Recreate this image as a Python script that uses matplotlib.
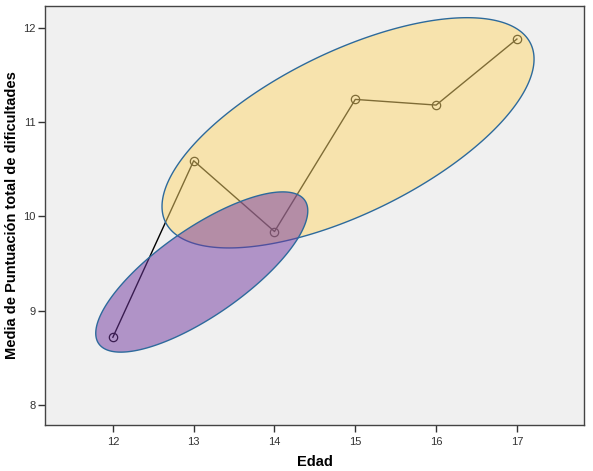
import matplotlib as mpl
import matplotlib.pyplot as plt
from matplotlib.patches import Polygon
import numpy as np

mpl.rcParams['font.family'] = ['Liberation Sans', 'DejaVu Sans']

edad = [12, 13, 14, 15, 16, 17]
media = [8.72, 10.59, 9.84, 11.24, 11.18, 11.88]

# ellipses: center x, center y, half-width x, half-height y, correlation
elipse_amarilla = [14.91, 10.886, 2.302, 1.220, 0.640]
elipse_morada = [13.10, 9.411, 1.312, 0.849, 0.764]

x_ticks = [12, 13, 14, 15, 16, 17]
y_ticks = [8, 9, 10, 11, 12]


def elipse_pts(cx, cy, hx, hy, r, n=300):
    t = np.linspace(0, 2 * np.pi, n, endpoint=False)
    x = cx + hx * np.cos(t)
    y = cy + hy * (r * np.cos(t) + np.sqrt(1 - r * r) * np.sin(t))
    return np.column_stack([x, y])


fig = plt.figure(figsize=(5.93, 4.71), dpi=100)
ax = fig.add_axes([0.0759, 0.0977, 0.9089, 0.8896])
ax.set_facecolor('#f0f0f0')

ax.plot(edad, media, color='black', linewidth=1, marker='o', markersize=6,
        markerfacecolor='none', markeredgewidth=0.9, zorder=2)

ax.add_patch(Polygon(elipse_pts(*elipse_amarilla), closed=True,
                     facecolor=(254/255, 216/255, 108/255, 0.5),
                     edgecolor='#2d6a9c', linewidth=1, zorder=3))
ax.add_patch(Polygon(elipse_pts(*elipse_morada), closed=True,
                     facecolor=(114/255, 56/255, 160/255, 0.5),
                     edgecolor='#2d6a9c', linewidth=1, zorder=4))

ax.set_xlim(11.16, 17.83)
ax.set_ylim(7.79, 12.23)
ax.set_xticks(x_ticks)
ax.set_yticks(y_ticks)
ax.tick_params(direction='out', length=5, width=1, colors='#333333', labelsize=8,
               top=False, right=False)
ax.tick_params(axis='y', pad=2)
ax.tick_params(axis='x', pad=4)
for s in ax.spines.values():
    s.set_color('#444444')
    s.set_linewidth(1)

ax.set_xlabel('Edad', fontsize=10.5, fontweight='bold', va='center')
ax.set_ylabel('Media de Puntuación total de dificultades', fontsize=10.5, fontweight='bold', va='center')
ax.xaxis.set_label_coords(0.5, -0.088)
ax.yaxis.set_label_coords(-0.061, 0.5)

fig.savefig('out.png', dpi=100)
